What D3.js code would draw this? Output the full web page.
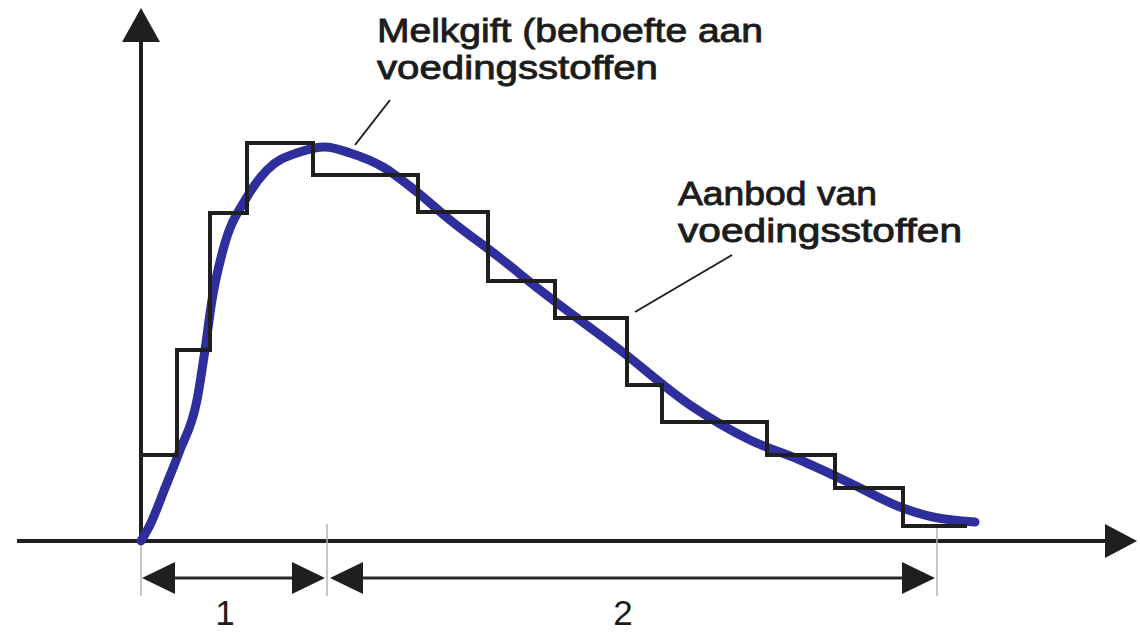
<!DOCTYPE html>
<html>
<head>
<meta charset="utf-8">
<script src="https://cdn.jsdelivr.net/npm/d3@7"></script>
<style>
  body { margin: 0; background: #fff; }
  svg { display: block; }
  text { font-family: "Liberation Sans", Arial, sans-serif; fill: #1c1c1c; }
</style>
</head>
<body>
<div id="chart"></div>
<script>
// melkgift (behoefte) - smooth curve, time / amount in arbitrary units
const demandTime  = [0, 0.9, 2.4, 3.9, 5.6, 6.4, 7.1, 8.2, 10.6, 12.6, 15.9, 18.4, 20.9, 24.2, 27.6, 30.9, 35.9, 39.9, 47.9, 54.9, 60.9, 65.9, 70.9, 75.9, 79.2, 83.4]
const demandValue = [0, 3.2, 10.6, 18.2, 28.2, 38.2, 48.2, 58.2, 68.8, 74.2, 77.8, 78.8, 77.6, 74.8, 69.8, 64.2, 56.6, 50.2, 38.2, 27.2, 20.2, 16.2, 11.6, 6.8, 4.8, 3.8]

// aanbod - step line, start of each step and its level
const supplyStart = [0, 3.6, 6.9, 10.6, 17.2, 27.7, 34.7, 41.4, 48.6, 52.1, 62.6, 69.4, 76.2]
const supplyLevel = [17.2, 38.2, 65.6, 79.6, 73.2, 65.8, 52, 44.6, 31.2, 23.8, 17.2, 10.6, 3]
const supplyEnd = 82.6

// phases under the axis
const phaseBounds = [0, 18.6, 79.6]
const phaseLabels = ['1', '2']

const demandLabel = ['Melkgift (behoefte aan', 'voedingsstoffen']
const supplyLabel = ['Aanbod van', 'voedingsstoffen']

const WIDTH = 1140
const HEIGHT = 633
const INK = '#1f1f1f'
const BLUE = '#2e2e9c'

const main = () => {
    const svg = d3.select('#chart')
        .append('svg')
        .attr('width', WIDTH)
        .attr('height', HEIGHT)

    const x = d3.scaleLinear().domain([0, 100]).range([141, 1141])
    const y = d3.scaleLinear().domain([0, 100]).range([541, 41])

    const arrowHead = (tipX, tipY, dx, dy, len, half) => {
        const bx = tipX - dx * len, by = tipY - dy * len
        const px = -dy * half, py = dx * half
        return `M${tipX},${tipY}L${bx + px},${by + py}L${bx - px},${by - py}Z`
    }

    // axes
    svg.append('line')
        .attr('x1', 17).attr('x2', 1110)
        .attr('y1', y(0)).attr('y2', y(0))
        .attr('stroke', INK).attr('stroke-width', 4)
    svg.append('path')
        .attr('d', arrowHead(1137, y(0), 1, 0, 32, 17))
        .attr('fill', INK)

    svg.append('line')
        .attr('x1', x(0)).attr('x2', x(0))
        .attr('y1', y(0)).attr('y2', 38)
        .attr('stroke', INK).attr('stroke-width', 4)
    svg.append('path')
        .attr('d', arrowHead(x(0), 8, 0, -1, 34, 19))
        .attr('fill', INK)

    // phase ticks + double arrows
    const tickTop = [y(0), y(3.4), y(3.4)]
    phaseBounds.forEach((b, i) => {
        svg.append('line')
            .attr('x1', x(b)).attr('x2', x(b))
            .attr('y1', tickTop[i]).attr('y2', 596)
            .attr('stroke', '#b5b5b5').attr('stroke-width', 1.5)
    })

    const arrowY = 578
    phaseLabels.forEach((label, i) => {
        const x0 = x(phaseBounds[i]) + (i === 0 ? 1 : 3)
        const x1 = x(phaseBounds[i + 1]) - 2
        svg.append('line')
            .attr('x1', x0 + 20).attr('x2', x1 - 20)
            .attr('y1', arrowY).attr('y2', arrowY)
            .attr('stroke', '#2a2a2a').attr('stroke-width', 3)
        svg.append('path').attr('d', arrowHead(x0, arrowY, -1, 0, 33, 16)).attr('fill', INK)
        svg.append('path').attr('d', arrowHead(x1, arrowY, 1, 0, 33, 16)).attr('fill', INK)
        svg.append('text')
            .attr('x', (x(phaseBounds[i]) + x(phaseBounds[i + 1])) / 2 - 9)
            .attr('y', 625)
            .attr('text-anchor', 'middle')
            .attr('font-size', 35)
            .text(label)
    })

    // supply step line
    const supplyPts = supplyStart.map((t, i) => [t, supplyLevel[i]])
    supplyPts.push([supplyEnd, supplyLevel[supplyLevel.length - 1]])
    const stepLine = d3.line()
        .x(d => x(d[0]))
        .y(d => y(d[1]))
        .curve(d3.curveStepAfter)

    // demand curve
    const demandLine = d3.line()
        .x(d => x(d[0]))
        .y(d => y(d[1]))
        .curve(d3.curveMonotoneX)

    svg.append('path')
        .datum(demandTime.map((t, i) => [t, demandValue[i]]))
        .attr('d', demandLine)
        .attr('fill', 'none')
        .attr('stroke', BLUE)
        .attr('stroke-width', 9)
        .attr('stroke-linecap', 'round')

    svg.append('path')
        .datum(supplyPts)
        .attr('d', stepLine)
        .attr('fill', 'none')
        .attr('stroke', INK)
        .attr('stroke-width', 4)
        .attr('stroke-linejoin', 'miter')

    // leader lines
    const leaders = [[[21.4, 79.2], [24.9, 88.2]], [[49.4, 45.8], [59.1, 57.2]]]
    leaders.forEach(([a, b]) => {
        svg.append('line')
            .attr('x1', x(a[0])).attr('y1', y(a[1]))
            .attr('x2', x(b[0])).attr('y2', y(b[1]))
            .attr('stroke', INK).attr('stroke-width', 2)
    })

    const labelBlock = (lines, lx, ly, widths) => {
        lines.forEach((line, i) => {
            svg.append('text')
                .attr('x', lx)
                .attr('y', ly + i * 37)
                .attr('font-size', 34)
                .attr('stroke', '#1c1c1c')
                .attr('stroke-width', 0.9)
                .attr('textLength', widths[i])
                .attr('lengthAdjust', 'spacingAndGlyphs')
                .text(line)
        })
    }
    labelBlock(demandLabel, 377, 42, [386, 281])
    labelBlock(supplyLabel, 678, 205, [199, 284])
}

document.addEventListener('DOMContentLoaded', main)
</script>
</body>
</html>
